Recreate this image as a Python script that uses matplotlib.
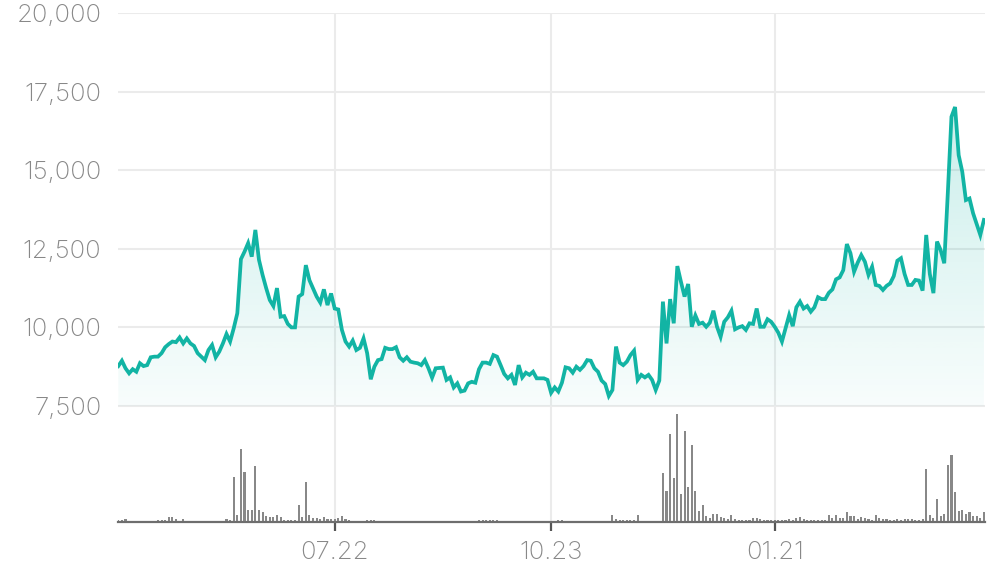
import numpy as np
import matplotlib
matplotlib.use("Agg")
import matplotlib.pyplot as plt

# ---------------- data ----------------
prices = [
    8770, 8940, 8700, 8540, 8670, 8590, 8860, 8770, 8800, 9050,
    9070, 9070, 9180, 9370, 9470, 9550, 9530, 9680, 9490, 9650,
    9490, 9410, 9180, 9070, 8960, 9280, 9440, 9050, 9230, 9490,
    9790, 9550, 9970, 10450, 12170, 12410, 12680, 12250, 13100, 12150,
    11670, 11250, 10870, 10680, 11250, 10340, 10360, 10110, 10000, 10000,
    10980, 11060, 11980, 11500, 11240, 10980, 10790, 11210, 10710, 11080,
    10600, 10570, 9920, 9550, 9390, 9580, 9280, 9350, 9650, 9180,
    8350, 8750, 8960, 8990, 9350, 9310, 9310, 9370, 9050, 8940,
    9050, 8910, 8880, 8860, 8800, 8960, 8700, 8400, 8700, 8710,
    8720, 8330, 8410, 8090, 8220, 7960, 7990, 8220, 8270, 8240,
    8670, 8880, 8880, 8840, 9120, 9070, 8800, 8520, 8380, 8490,
    8170, 8800, 8410, 8560, 8490, 8590, 8380, 8380, 8380, 8330,
    7920, 8090, 7960, 8240, 8730, 8700, 8560, 8750, 8650, 8770,
    8960, 8940, 8700, 8590, 8310, 8200, 7820, 8010, 9390, 8880,
    8800, 8910, 9120, 9260, 8330, 8490, 8410, 8490, 8330, 8010,
    8310, 10820, 9490, 10900, 10130, 11950, 11450, 10980, 11380, 10020,
    10380, 10110, 10150, 10020, 10150, 10530, 10020, 9700, 10180, 10320,
    10530, 9940, 10000, 10040, 9920, 10130, 10110, 10600, 10020, 10020,
    10260, 10180, 10020, 9830, 9550, 9970, 10390, 10040, 10640, 10820,
    10600, 10680, 10500, 10640, 10960, 10900, 10900, 11100, 11210, 11530,
    11590, 11820, 12650, 12360, 11770, 12060, 12300, 12090, 11670, 11930,
    11350, 11320, 11190, 11320, 11400, 11630, 12120, 12200, 11700, 11350,
    11350, 11510, 11490, 11170, 12940, 11700, 11090, 12730, 12460, 12040,
    14300, 16700, 17010, 15480, 14950, 14050, 14100, 13630, 13290, 12940,
    13420,
]

volumes = [
    16, 16, 27, 15, 15, 15, 15, 15, 15, 15,
    15, 16, 16, 17, 47, 47, 33, 15, 27, 15,
    15, 15, 15, 15, 15, 15, 15, 15, 15, 15,
    27, 23, 447, 73, 730, 500, 117, 117, 560, 117,
    97, 57, 47, 47, 73, 47, 23, 23, 23, 23,
    167, 47, 397, 67, 40, 40, 33, 47, 33, 33,
    33, 40, 57, 33, 17, 15, 15, 15, 15, 16,
    23, 17, 15, 15, 15, 15, 15, 15, 15, 15,
    15, 15, 15, 15, 15, 15, 15, 15, 0, 0,
    0, 12, 12, 12, 12, 0, 12, 0, 0, 0,
    20, 16, 16, 20, 23, 16, 15, 15, 15, 15,
    0, 15, 15, 15, 15, 15, 15, 15, 12, 15,
    15, 15, 16, 23, 15, 15, 15, 0, 0, 15,
    15, 15, 15, 15, 15, 15, 15, 67, 33, 20,
    17, 20, 20, 23, 67, 15, 15, 15, 15, 15,
    15, 490, 307, 880, 440, 1080, 280, 907, 347, 767,
    307, 107, 167, 57, 40, 83, 83, 47, 40, 33,
    73, 33, 20, 20, 20, 23, 40, 40, 33, 20,
    20, 20, 20, 20, 23, 20, 33, 23, 40, 53,
    33, 20, 16, 20, 23, 20, 20, 73, 40, 73,
    40, 40, 97, 57, 57, 33, 47, 40, 33, 23,
    73, 40, 33, 33, 23, 23, 30, 23, 33, 33,
    27, 23, 23, 33, 530, 67, 40, 230, 57, 80,
    567, 667, 300, 107, 117, 80, 97, 57, 57, 40,
    97,
]

tick_idx = [60, 120, 182]
tick_labels = ["07.22", "10.23", "01.21"]
y_ticks = [7500, 10000, 12500, 15000, 17500, 20000]

# ---------------- styling ----------------
LINE = "#12b4a4"
GRID = "#ebebeb"
TXT = "#888888"
FONT = ["Inter", "DejaVu Sans"]

W, H = 996, 567
fig = plt.figure(figsize=(W / 100, H / 100), dpi=100)


def box(l, t, r, b):
    return [l / W, 1 - b / H, (r - l) / W, (b - t) / H]


x = np.arange(len(prices))
p = np.array(prices, dtype=float)
xlim = (-0.08, len(prices) - 1 + 0.3)

# price axes: 20000 at y=13px, 7500 at y=406px, bottom at 522px
ax = fig.add_axes(box(118, 13, 985, 522))
pxv = 12500 / 393.0
ylim = (7500 - 116 * pxv, 20000)
ax.patch.set_alpha(0)
for s in ax.spines.values():
    s.set_visible(False)
ax.set_yticks(y_ticks)
ax.set_yticklabels([f"{v:,}" for v in y_ticks])
ax.tick_params(axis="y", length=0, pad=12, labelsize=18.5, labelcolor=TXT)
for lab in ax.get_yticklabels():
    lab.set_family(FONT)
    lab.set_fontweight("light")
ax.set_xticks(tick_idx)
ax.tick_params(axis="x", length=0, labelbottom=False)
ax.grid(True, axis="both", color=GRID, lw=1.5)
ax.set_axisbelow(True)

# gradient fill under the line
poly = ax.fill_between(x, p, 7500, color="none", lw=0)
pmax = p.max()
n = 256
alpha = np.linspace(0.03, 0.22, n)[:, None]
rgb = np.array(matplotlib.colors.to_rgb(LINE))
img = np.zeros((n, 1, 4))
img[..., :3] = rgb
img[..., 3] = alpha
im = ax.imshow(img, extent=[x[0], x[-1], 7500, pmax], origin="lower",
               aspect="auto", zorder=1, interpolation="bilinear")
im.set_clip_path(poly.get_paths()[0], transform=ax.transData)
ax.set_xlim(*xlim)
ax.set_ylim(*ylim)

ax.plot(x, p, color=LINE, lw=2.7, solid_joinstyle="miter", zorder=3)

# volume axes
vax = fig.add_axes(box(118, 406, 985, 522))
vax.patch.set_alpha(0)
vax.bar(x, volumes, width=0.58, color="#888888", zorder=2)
vax.set_xlim(*xlim)
vax.set_ylim(0, 1160)
for k in ("top", "right", "left"):
    vax.spines[k].set_visible(False)
vax.spines["bottom"].set_color("#6e6e6e")
vax.spines["bottom"].set_linewidth(1.6)
vax.set_yticks([])
vax.set_xticks(tick_idx)
vax.set_xticklabels(tick_labels)
vax.tick_params(axis="x", direction="out", length=6.5, width=1.6,
                color="#555555", pad=7, labelsize=18.5, labelcolor=TXT)
for lab in vax.get_xticklabels():
    lab.set_family(FONT)
    lab.set_fontweight("light")

fig.savefig("out.png", dpi=100)
